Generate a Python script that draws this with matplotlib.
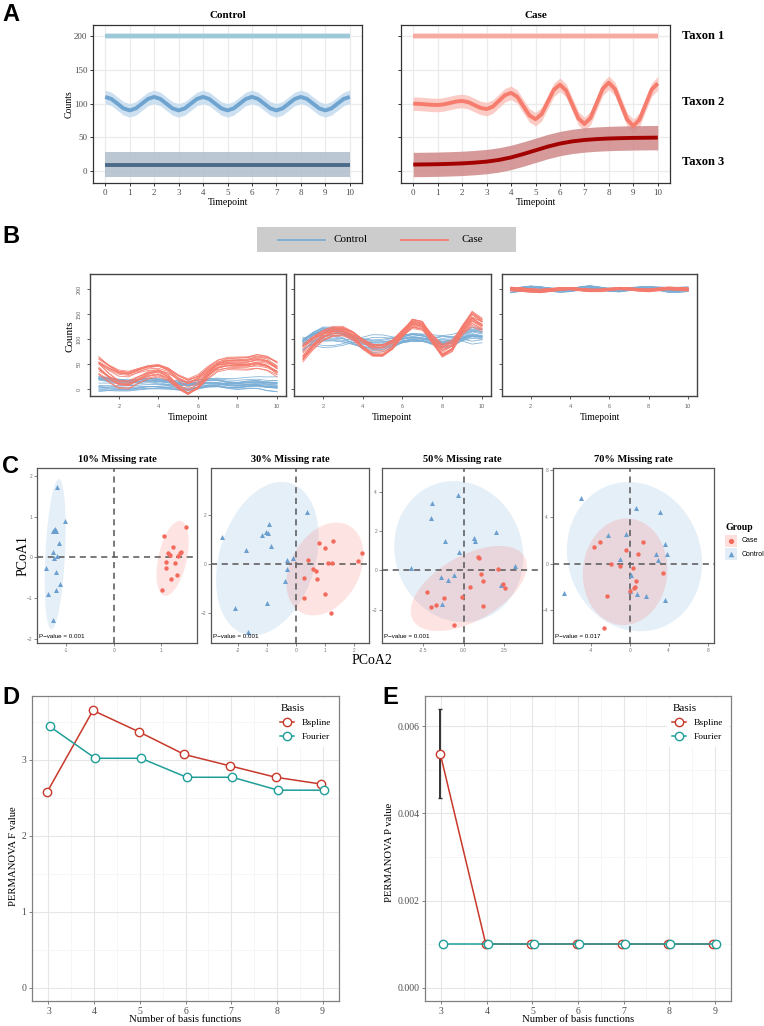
import numpy as np
import matplotlib
matplotlib.use("Agg")
import matplotlib.pyplot as plt
from matplotlib.patches import Ellipse, Rectangle
from matplotlib.lines import Line2D

W, H = 764, 1026
SERIF = ["Liberation Serif", "DejaVu Serif"]
SANS = ["Liberation Sans", "DejaVu Sans"]
plt.rcParams["font.family"] = SERIF

# ---------------- A: mean trajectories
a_time_q = np.arange(0, 10.01, 0.25)
a_time_h = np.arange(0, 10.01, 0.5)
a_time_flat = [0, 10]
ctrl_taxon1 = [200, 200]
ctrl_taxon2 = [110, 107, 100, 93, 90, 93, 100, 107,
               110, 107, 100, 93, 90, 93, 100, 107,
               110, 107, 100, 93, 90, 93, 100, 107,
               110, 107, 100, 93, 90, 93, 100, 107,
               110, 107, 100, 93, 90, 93, 100, 107, 110]
ctrl_taxon3 = [10, 10]
case_taxon1 = [200, 200]
case_taxon2 = [100, 99.7, 99, 98.3, 98,
               98.9, 101, 103.1, 104,
               102.2, 98, 93.8, 92,
               95.5, 104, 112.5, 116,
               110.3, 96.5, 82.7, 77,
               84.5, 102.5, 120.5, 128,
               119.5, 99, 78.5, 70,
               78.9, 100.5, 122.1, 131,
               121.6, 99, 76.4, 67,
               76.2, 98.5, 120.8, 130]
case_taxon3 = [10, 10.2, 10.5, 11, 11.7, 12.8, 14.3, 16.8, 20.5, 25.5, 31,
               36.5, 41, 44.2, 46.3, 47.6, 48.5, 49, 49.4, 49.6, 49.8]
band_half = [5, 10, 18]
taxon_names = ["Taxon 1", "Taxon 2", "Taxon 3"]

# ---------------- B: individual curves
b_time = np.arange(1, 10.01, 0.5)
b_case_base = [
    [47, 32, 20, 18, 27, 35, 38, 30, 13, 2, 12, 32, 47, 52, 52, 52, 56, 52, 40],
    [72, 92, 108, 116, 117, 108, 90, 77, 76, 88, 112, 132, 128, 100, 75, 85, 118, 142, 130],
    [201, 200, 198, 197, 199, 201, 202, 200, 198, 198, 200, 202, 201, 199, 198, 200, 202, 201, 200],
]
b_ctrl_base = [
    [14, 12, 10, 9, 11, 13, 12, 10, 7, 5, 8, 12, 12, 9, 8, 10, 11, 8, 7],
    [90, 104, 112, 112, 108, 100, 92, 86, 87, 92, 100, 104, 102, 97, 92, 95, 105, 113, 110],
    [198, 201, 203, 202, 200, 198, 199, 202, 204, 202, 199, 198, 200, 202, 203, 201, 198, 198, 200],
]
b_case_spread = [12, 8, 2.5]
b_ctrl_spread = [9, 8, 3]
b_case_shift = [-1.0, 0.6, -0.3, 0.9, -0.7, 0.2, 0.0, -0.5, 0.4, 1.0,
                -0.9, 0.1, 0.7, -0.2, 0.5, -0.6, 0.3, -0.4, 0.8, -0.1]
b_case_amp = [1.0, 0.75, 1.25, 0.85, 1.15, 0.7, 1.3, 0.9, 1.1, 0.8,
              1.0, 1.2, 0.75, 1.25, 0.9, 1.1, 0.8, 1.2, 1.0, 0.7]
b_case_tilt = [0.5, -0.8, 0.2, -0.3, 0.9, -0.6, 0.0, 0.7, -1.0, 0.3,
               -0.4, 0.8, -0.2, 0.6, -0.9, 0.1, 1.0, -0.5, 0.4, -0.7]
b_ctrl_shift = [0.2, -0.8, 0.9, -0.3, 0.5, -1.0, 0.7, 0.0, -0.5, 1.0,
                -0.6, 0.3, -0.2, 0.8, -0.9, 0.4, -0.4, 0.6, -0.7, 0.1]
b_ctrl_amp = [0.9, 1.4, 0.5, 1.1, 1.5, 0.7, 1.0, 0.4, 1.3, 0.8,
              1.2, 0.6, -0.8, 1.4, 0.7, 1.1, -0.6, 1.3, 0.5, 1.0]
b_ctrl_tilt = [-0.6, 0.4, 0.9, -1.0, 0.2, 0.7, -0.3, 0.5, -0.8, 0.0,
               0.8, -0.5, 0.3, -0.2, 0.6, -0.9, 1.0, -0.4, 0.1, -0.7]

# ---------------- C: PCoA scores
c_titles = ["10% Missing rate", "30% Missing rate", "50% Missing rate", "70% Missing rate"]
c_pvalues = ["0.001", "0.001", "0.001", "0.017"]
c_case_x = [
    [1.51, 1.06, 1.25, 1.14, 1.18, 1.42, 1.39, 1.35, 1.09, 1.28, 1.09, 1.33, 1.21, 1.01],
    [1.27, 0.78, 1.01, 2.26, 2.13, 0.42, 1.11, 1.24, 0.57, 0.69, 0.26, 0.73, 0.99, 0.27, 1.20],
    [0.86, 0.92, 2.12, 1.04, 1.20, 0.37, 2.43, 2.53, -2.27, -1.23, -0.10, -2.01, -1.70, 1.17, -0.61],
    [-3.08, -3.66, 1.36, -0.35, 0.88, -1.89, -0.99, 0.37, 3.42, 0.62, 0.58, 0.47, 0.00, -2.40, -2.67],
]
c_case_y = [
    [0.75, 0.53, 0.25, 0.11, 0.06, 0.13, 0.10, 0.04, -0.12, -0.15, -0.25, -0.44, -0.54, -0.80],
    [0.95, 0.85, 0.66, 0.45, 0.13, 0.16, 0.03, 0.07, -0.18, -0.26, -0.57, -0.62, -1.22, -1.38, -1.97],
    [0.68, 0.63, 0.04, -0.18, -0.54, -0.84, -0.68, -0.91, -1.10, -1.42, -1.34, -1.88, -1.79, -1.81, -2.76],
    [1.89, 1.40, 1.85, 1.14, 0.80, -0.06, -0.17, -0.34, -0.83, -1.52, -1.97, -2.06, -2.31, -2.74, -5.48],
]
c_ctrl_x = [
    [-1.19, -1.02, -1.26, -1.29, -1.22, -1.24, -1.15, -1.29, -1.26, -1.19, -1.44, -1.22, -1.13, -1.22, -1.39, -1.28],
    [-2.53, -1.73, -0.94, -1.16, -1.04, -0.97, -0.86, 0.37, -0.32, -0.09, -0.32, -0.37, -2.11, -1.00, -1.65],
    [-1.94, -1.99, -0.35, -1.17, 0.61, 0.69, 1.96, -0.29, -3.21, 3.17, -1.37, -0.98, -0.58, 2.29, -1.33],
    [-5.0, 0.62, 3.14, -2.26, -0.38, 3.65, 3.79, 2.67, 2.87, -1.03, 0.13, -6.74, 0.72, 1.70, 3.65, 0.03],
]
c_ctrl_y = [
    [1.73, 0.89, 0.67, 0.64, 0.64, 0.69, 0.36, 0.12, -0.02, 0.03, -0.25, -0.37, -0.66, -0.81, -0.90, -1.54],
    [1.10, 0.58, 1.64, 1.19, 1.33, 1.26, 0.73, 2.11, 0.16, 0.26, -0.20, -0.69, -1.76, -1.57, -2.74],
    [3.40, 2.64, 3.83, 1.49, 1.66, 1.51, 1.96, 0.91, 0.09, 0.24, -0.34, -0.49, -0.25, -0.74, -1.71],
    [5.62, 4.77, 4.40, 2.43, 2.51, 1.71, 0.86, 0.82, 0.28, 0.37, -0.98, -2.49, -2.63, -2.74, -3.08, -2.31],
]

# ---------------- D / E: PERMANOVA vs number of basis functions
n_basis = [3, 4, 5, 6, 7, 8, 9]
f_bspline = [2.58, 3.65, 3.37, 3.07, 2.92, 2.77, 2.68]
f_fourier = [3.44, 3.02, 3.02, 2.77, 2.77, 2.60, 2.60]
p_bspline = [0.00537, 0.001, 0.001, 0.001, 0.001, 0.001, 0.001]
p_bspline_err = [0.00102, 0, 0, 0, 0, 0, 0]
p_fourier = [0.001, 0.001, 0.001, 0.001, 0.001, 0.001, 0.001]

fig = plt.figure(figsize=(W / 100, H / 100), dpi=100)


def add_ax(l, t, r, b):
    return fig.add_axes([l / W, 1 - b / H, (r - l) / W, (b - t) / H])


def ftext(x, y, s, **kw):
    fig.text(x / W, 1 - y / H, s, **kw)


def letter(x, y, s):
    ftext(x, y, s, family=SANS, weight="bold", size=17, va="top", ha="left")


# ================= Panel A
ctrl_lines = ["#9cc8d8", "#6fa4d0", "#4c6b8a"]
ctrl_bands = ["#d0e6ef", "#c4dbef", "#b0bfcd"]
case_lines = ["#f6aaa1", "#f67d6e", "#a30000"]
case_bands = ["#fcd6d0", "#fac3bb", "#cf8888"]
a_panels = [
    ("Control", (93, 25, 362, 183),
     [(a_time_flat, ctrl_taxon1), (a_time_q, ctrl_taxon2), (a_time_flat, ctrl_taxon3)],
     ctrl_lines, ctrl_bands),
    ("Case", (401, 25, 670, 183),
     [(a_time_flat, case_taxon1), (a_time_q, case_taxon2), (a_time_h, case_taxon3)],
     case_lines, case_bands),
]
for k, (name, box, series, lcols, bcols) in enumerate(a_panels):
    ax = add_ax(*box)
    for i, (t, y) in enumerate(series):
        y = np.array(y, float)
        ax.fill_between(t, y - band_half[i], y + band_half[i], color=bcols[i],
                        alpha=0.85, lw=0, zorder=2)
    for i, (t, y) in enumerate(series):
        ax.plot(t, y, color=lcols[i], lw=2.8, solid_capstyle="butt", zorder=3)
    ax.set_xlim(-0.5, 10.5)
    ax.set_ylim(-17.3, 216.3)
    ax.set_xticks(range(11))
    ax.set_yticks([0, 50, 100, 150, 200])
    ax.grid(True, color="#ebebeb", lw=0.9, zorder=0)
    ax.set_axisbelow(True)
    for sp in ax.spines.values():
        sp.set_color("#333333")
        sp.set_linewidth(0.9)
    ax.tick_params(labelsize=6.5, colors="#333333", labelcolor="#4d4d4d", length=2.5, width=0.7, pad=1.5)
    if k == 1:
        ax.tick_params(labelleft=False)
    cx = (box[0] + box[2]) / 2
    ftext(cx, 15, name, weight="bold", size=8, ha="center", va="center")
    ftext(cx, 198, "Timepoint", size=7, ha="center", va="top")
ftext(69, 104, "Counts", size=7, rotation=90, ha="center", va="center")
for name, yy in zip(taxon_names, [36, 102, 162]):
    ftext(682, yy, name, weight="bold", size=9, ha="left", va="center")
letter(2, 3, "A")

# ================= Panel B
RED_B = "#f47a6c"
BLUE_B = "#7aaed6"
lax = add_ax(257, 227, 516, 252)
lax.set_xlim(257, 516)
lax.set_ylim(252, 227)
lax.axis("off")
lax.add_patch(Rectangle((257, 227), 259, 25, color="#cccccc", lw=0))
lax.plot([278, 325], [239.5, 239.5], color=BLUE_B, lw=1.3)
lax.plot([401, 448], [239.5, 239.5], color=RED_B, lw=1.3)
lax.text(334, 239.5, "Control", size=8, va="center", ha="left")
lax.text(462, 239.5, "Case", size=8, va="center", ha="left")

b_boxes = [(90, 274, 286, 396), (294, 274, 491, 396), (502, 274, 697, 396)]
tc = (b_time - 5.5) / 4.5
for p, box in enumerate(b_boxes):
    ax = add_ax(*box)
    groups = [(b_ctrl_base[p], b_ctrl_spread[p], b_ctrl_shift, b_ctrl_amp, b_ctrl_tilt, BLUE_B),
              (b_case_base[p], b_case_spread[p], b_case_shift, b_case_amp, b_case_tilt, RED_B)]
    for base, spread, shifts, amps, tilts, col in groups:
        base = np.array(base, float)
        c = base.mean()
        for s, a, g in zip(shifts, amps, tilts):
            ax.plot(b_time, c + a * (base - c) + s * spread + g * spread * tc,
                    color=col, lw=0.6, alpha=0.9)
    ax.set_xlim(0.55, 10.45)
    ax.set_ylim(-14, 231)
    ax.set_xticks([2, 4, 6, 8, 10])
    ax.set_yticks([0, 50, 100, 150, 200])
    for sp in ax.spines.values():
        sp.set_color("#444444")
        sp.set_linewidth(1.0)
    ax.tick_params(labelsize=4, colors="#444444", labelcolor="#666666", length=2.5, width=0.6)
    for lb in ax.get_xticklabels() + ax.get_yticklabels():
        lb.set_family(SANS)
    if p == 0:
        plt.setp(ax.get_yticklabels(), rotation=90, va="center")
    else:
        ax.tick_params(labelleft=False)
    ftext((box[0] + box[2]) / 2, 418, "Timepoint", size=7, ha="center", va="center")
ftext(70, 336, "Counts", size=8, rotation=90, ha="center", va="center")
letter(2, 225, "B")

# ================= Panel C
RED_C = "#f36a5c"
BLUE_C = "#6b9fd0"
c_boxes = [(37, 468, 197, 643), (211, 468, 369, 643), (382, 468, 542, 643), (553, 468, 714, 643)]
c_xlims = [(-1.62, 1.75), (-2.92, 2.51), (-5.0, 4.8), (-7.9, 8.65)]
c_ylims = [(-2.1, 2.19), (-3.2, 3.91), (-3.7, 5.2), (-6.8, 8.2)]
c_xticks = [[-1, 0, 1], [-2, -1, 0, 1, 2], [-2.5, 0, 2.5], [-4, 0, 4, 8]]
c_xtlabels = [["-1", "0", "1"], ["-2", "-1", "0", "1", "2"], ["-2.5", "0.0", "2.5"], ["-4", "0", "4", "8"]]
c_yticks = [[-2, -1, 0, 1, 2], [-2, 0, 2], [-2, 0, 2, 4], [-4, 0, 4, 8]]


def conf_ellipse(ax, x, y, color, r=2.25):
    x = np.asarray(x)
    y = np.asarray(y)
    vals, vecs = np.linalg.eigh(np.cov(x, y))
    order = vals.argsort()[::-1]
    vals, vecs = vals[order], vecs[:, order]
    ang = np.degrees(np.arctan2(vecs[1, 0], vecs[0, 0]))
    ax.add_patch(Ellipse((x.mean(), y.mean()), 2 * r * np.sqrt(vals[0]), 2 * r * np.sqrt(vals[1]),
                         angle=ang, facecolor=color, alpha=0.2, edgecolor="none", zorder=1))


for p, box in enumerate(c_boxes):
    ax = add_ax(*box)
    conf_ellipse(ax, c_ctrl_x[p], c_ctrl_y[p], "#7fb0dc")
    conf_ellipse(ax, c_case_x[p], c_case_y[p], "#f8766d")
    ax.axhline(0, color="#555555", lw=1.1, ls=(0, (4, 3)), zorder=2)
    ax.axvline(0, color="#555555", lw=1.1, ls=(0, (4, 3)), zorder=2)
    ax.scatter(c_ctrl_x[p], c_ctrl_y[p], marker="^", s=13, color=BLUE_C, lw=0, zorder=3)
    ax.scatter(c_case_x[p], c_case_y[p], marker="o", s=10, color=RED_C, lw=0, zorder=3)
    ax.set_xlim(*c_xlims[p])
    ax.set_ylim(*c_ylims[p])
    ax.set_xticks(c_xticks[p])
    ax.set_xticklabels(c_xtlabels[p])
    ax.set_yticks(c_yticks[p])
    ax.tick_params(labelsize=3.5, colors="#555555", labelcolor="#777777", length=2, width=0.5, pad=1.5)
    for lb in ax.get_xticklabels() + ax.get_yticklabels():
        lb.set_family(SANS)
    for sp in ax.spines.values():
        sp.set_color("#555555")
        sp.set_linewidth(0.9)
    ax.text(0.01, 0.02, "P\u2212value = " + c_pvalues[p], transform=ax.transAxes,
            family=SANS, size=4.5, ha="left", va="bottom")
    ftext((box[0] + box[2]) / 2, 460, c_titles[p], weight="bold", size=7.5, ha="center", va="center")
ftext(23, 556, "PCoA1", size=10, rotation=90, ha="center", va="center")
ftext(372, 660, "PCoA2", size=10, ha="center", va="center")

gax = add_ax(720, 516, 764, 562)
gax.set_xlim(720, 764)
gax.set_ylim(562, 516)
gax.axis("off")
gax.text(725, 527, "Group", weight="bold", size=7, ha="left", va="center")
gax.add_patch(Rectangle((725, 535), 12, 12, color="#f8766d", alpha=0.22, lw=0))
gax.add_patch(Rectangle((725, 548), 12, 12, color="#7fb0dc", alpha=0.22, lw=0))
gax.scatter([731], [541], marker="o", s=14, color=RED_C, lw=0)
gax.scatter([731], [554], marker="^", s=16, color=BLUE_C, lw=0)
gax.text(742, 541, "Case", family=SANS, size=5, ha="left", va="center")
gax.text(742, 554, "Control", family=SANS, size=5, ha="left", va="center")
letter(2, 455, "C")

# ================= Panels D and E
RED_L = "#c8382b"
TEAL_L = "#1f9e98"
dodge = 0.025


def style_de(ax):
    ax.set_xlim(2.64, 9.36)
    ax.set_xticks(n_basis)
    ax.set_xticks([3.5, 4.5, 5.5, 6.5, 7.5, 8.5], minor=True)
    ax.grid(True, which="major", color="#e6e6e6", lw=0.8, zorder=0)
    ax.grid(True, which="minor", color="#f3f3f3", lw=0.5, zorder=0)
    ax.set_axisbelow(True)
    for sp in ax.spines.values():
        sp.set_color("#808080")
        sp.set_linewidth(0.9)
    ax.tick_params(which="major", labelsize=7, colors="#808080", labelcolor="#4d4d4d",
                   length=2.5, width=0.7, pad=1.5)
    ax.tick_params(which="minor", length=0)
    handles = [Line2D([], [], color=RED_L, marker="o", mfc="white", ms=6, lw=1.1, mew=1),
               Line2D([], [], color=TEAL_L, marker="o", mfc="white", ms=6, lw=1.1, mew=1)]
    ax.legend(handles, ["Bspline", "Fourier"], title="Basis", loc="upper right",
              bbox_to_anchor=(1.0, 1.0), frameon=True, facecolor="white", edgecolor="none",
              framealpha=1, fancybox=False, prop={"family": SERIF, "size": 6.8},
              title_fontproperties={"family": SERIF, "size": 8}, handlelength=1.5,
              borderpad=0.6, labelspacing=0.6, alignment="left", borderaxespad=0.2)


nb = np.array(n_basis, float)

axd = add_ax(32, 696, 339, 1001)
axd.plot(nb - dodge, f_bspline, color=RED_L, lw=1.1, marker="o", mfc="white", ms=6, mew=1, zorder=3)
axd.plot(nb + dodge, f_fourier, color=TEAL_L, lw=1.1, marker="o", mfc="white", ms=6, mew=1, zorder=3)
axd.set_ylim(-0.176, 3.84)
axd.set_yticks([0, 1, 2, 3])
axd.set_yticks([0.5, 1.5, 2.5, 3.5], minor=True)
style_de(axd)
ftext(14, 856, "PERMANOVA F value", size=7.7, rotation=90, ha="center", va="center")
ftext(185, 1024, "Number of basis functions", size=7.7, ha="center", va="bottom")
letter(2, 686, "D")

axe = add_ax(425, 696, 731, 1001)
err = np.array(p_bspline_err)
has_err = err > 0
axe.errorbar(nb[has_err] - dodge, np.array(p_bspline)[has_err], yerr=err[has_err],
             fmt="none", ecolor="#333333", elinewidth=1.4, capsize=1.2, zorder=2)
axe.plot(nb - dodge, p_bspline, color=RED_L, lw=1.1, marker="o", mfc="white", ms=6, mew=1, zorder=3)
axe.plot(nb + dodge, p_fourier, color=TEAL_L, lw=1.1, marker="o", mfc="white", ms=6, mew=1, zorder=3)
axe.set_ylim(-0.000308, 0.006697)
axe.set_yticks([0, 0.002, 0.004, 0.006])
axe.set_yticklabels(["0.000", "0.002", "0.004", "0.006"])
axe.set_yticks([0.001, 0.003, 0.005], minor=True)
style_de(axe)
ftext(389, 852, "PERMANOVA P value", size=7.7, rotation=90, ha="center", va="center")
ftext(578, 1024, "Number of basis functions", size=7.7, ha="center", va="bottom")
letter(382, 686, "E")

fig.savefig("out.png", dpi=100)
